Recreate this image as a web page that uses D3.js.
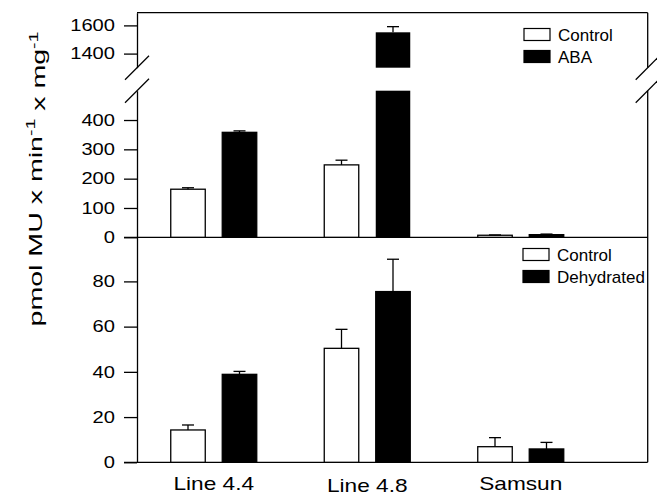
<!DOCTYPE html>
<html>
<head>
<meta charset="utf-8">
<script src="https://cdn.jsdelivr.net/npm/d3@7"></script>
<style>
  body { margin: 0; background: #fff; }
  svg { display: block; font-family: "Liberation Sans", Arial, sans-serif; }
  .axis path, .axis line { stroke: #000; stroke-width: 1.3; }
  .axis text { font-size: 16.5px; fill: #000; }
</style>
</head>
<body>
<div id="chart"></div>
<script>
// categories
var groups = ["Line 4.4", "Line 4.8", "Samsun"];

// top panel (ABA experiment)
var abaControl = [164, 247, 7];
var abaControlErr = [5, 16, 1];
var abaTreated = [358, 1551, 9];
var abaTreatedErr = [5, 40, 2];

// bottom panel (dehydration experiment)
var dehControl = [14.3, 50.4, 6.9];
var dehControlErr = [2.2, 8.4, 4.0];
var dehTreated = [38.9, 75.5, 5.9];
var dehTreatedErr = [1.3, 14.3, 2.9];

var lowTicks = [0, 100, 200, 300, 400];
var highTicks = [1400, 1600];
var bottomTicks = [0, 20, 40, 60, 80];

var W = 657, H = 496;
var left = 137, right = 647.7;
var topY = 12.7, breakLo = 90.7, breakHi = 67.7, midY = 237.3, baseY = 462.3;

var svg = d3.select("#chart").append("svg")
    .attr("width", W)
    .attr("height", H);

var x = d3.scaleBand()
    .domain(groups)
    .range([left, 597.5])
    .paddingInner(0)
    .paddingOuter(0);

var xSub = d3.scaleBand()
    .domain(["control", "treated"])
    .range([-43, 43])
    .paddingInner(0.33);

var yLow = d3.scaleLinear().domain([0, 500]).range([midY, breakLo]);
var yHigh = d3.scaleLinear().domain([1300, 1690]).range([breakHi, topY]);
var yBot = d3.scaleLinear().domain([0, 99.5]).range([baseY, midY]);

function bx(i, key) {
    return x(groups[i]) + x.bandwidth() / 2 + xSub(key);
}

// stretch text horizontally to match the wide lettering of the original
function stretch(sel, k) {
    sel.each(function() {
        var len = this.getComputedTextLength();
        d3.select(this).attr("textLength", len * k).attr("lengthAdjust", "spacingAndGlyphs");
    });
}

// ---- axes
var fmt = d3.format("d");
svg.append("g").attr("class", "axis")
    .attr("transform", "translate(" + left + ",0)")
    .call(d3.axisLeft(yLow).tickValues(lowTicks).tickFormat(fmt).tickSize(13).tickSizeOuter(0).tickPadding(9));
svg.append("g").attr("class", "axis")
    .attr("transform", "translate(" + left + ",0)")
    .call(d3.axisLeft(yHigh).tickValues(highTicks).tickFormat(fmt).tickSize(13).tickSizeOuter(0).tickPadding(9));
svg.append("g").attr("class", "axis")
    .attr("transform", "translate(" + left + ",0)")
    .call(d3.axisLeft(yBot).tickValues(bottomTicks).tickFormat(fmt).tickSize(13).tickSizeOuter(0).tickPadding(9));

svg.selectAll(".axis text").call(stretch, 1.22);

// frame lines
var frame = svg.append("g").attr("stroke", "#000").attr("stroke-width", 1.3).attr("fill", "none");
frame.append("line").attr("x1", left).attr("x2", right).attr("y1", topY).attr("y2", topY);
frame.append("line").attr("x1", left - 13).attr("x2", right).attr("y1", midY).attr("y2", midY);
frame.append("line").attr("x1", left - 13).attr("x2", right).attr("y1", baseY).attr("y2", baseY);
frame.append("line").attr("x1", right).attr("x2", right).attr("y1", topY).attr("y2", breakHi);
frame.append("line").attr("x1", right).attr("x2", right).attr("y1", breakLo).attr("y2", baseY);

// break marks
[left, right].forEach(function(cx) {
    [breakHi, breakLo].forEach(function(cy) {
        frame.append("line")
            .attr("x1", cx - 12).attr("y1", cy + 12)
            .attr("x2", cx + 12).attr("y2", cy - 12);
    });
});

// ---- bars
var barW = xSub.bandwidth();

function errBar(g, cx, y0, y1) {
    g.append("line").attr("x1", cx).attr("x2", cx)
        .attr("y1", y0).attr("y2", y1)
        .attr("stroke", "#000").attr("stroke-width", 1.3);
    g.append("line").attr("x1", cx - 6).attr("x2", cx + 6)
        .attr("y1", y1).attr("y2", y1)
        .attr("stroke", "#000").attr("stroke-width", 1.3);
}

function drawBar(g, i, key, val, err, fill, scaleFn) {
    var x0 = bx(i, key);
    g.append("rect")
        .attr("x", x0).attr("width", barW)
        .attr("y", scaleFn(val)).attr("height", scaleFn(0) - scaleFn(val))
        .attr("fill", fill).attr("stroke", "#000").attr("stroke-width", 1.3);
    errBar(g, x0 + barW / 2, scaleFn(val), scaleFn(val + err));
}

var bars = svg.append("g");

groups.forEach(function(g, i) {
    // top panel
    drawBar(bars, i, "control", abaControl[i], abaControlErr[i], "#fff", yLow);
    if (abaTreated[i] > yLow.domain()[1]) {
        // broken bar: lower piece up to the break, upper piece above it
        var x0 = bx(i, "treated");
        bars.append("rect").attr("x", x0).attr("width", barW)
            .attr("y", yLow(500)).attr("height", yLow(0) - yLow(500))
            .attr("fill", "#000");
        bars.append("rect").attr("x", x0).attr("width", barW)
            .attr("y", yHigh(abaTreated[i])).attr("height", yHigh(1300) - yHigh(abaTreated[i]))
            .attr("fill", "#000");
        errBar(bars, x0 + barW / 2, yHigh(abaTreated[i]), yHigh(abaTreated[i] + abaTreatedErr[i]));
    } else {
        drawBar(bars, i, "treated", abaTreated[i], abaTreatedErr[i], "#000", yLow);
    }
    // bottom panel
    drawBar(bars, i, "control", dehControl[i], dehControlErr[i], "#fff", yBot);
    drawBar(bars, i, "treated", dehTreated[i], dehTreatedErr[i], "#000", yBot);
});

// ---- legends
function legend(x0, y0, labels) {
    var lg = svg.append("g").attr("transform", "translate(" + x0 + "," + y0 + ")");
    labels.forEach(function(lab, j) {
        lg.append("rect")
            .attr("x", 0).attr("y", j * 22)
            .attr("width", 26).attr("height", 12)
            .attr("fill", j === 0 ? "#fff" : "#000")
            .attr("stroke", "#000").attr("stroke-width", 1.2);
        lg.append("text")
            .attr("x", 34).attr("y", j * 22 + 6)
            .attr("dy", "0.36em")
            .style("font-size", "17px")
            .text(lab);
    });
}
legend(524, 28.5, ["Control", "ABA"]);
legend(523, 248.5, ["Control", "Dehydrated"]);

// ---- x labels
svg.append("g").selectAll("text")
    .data(groups)
    .enter().append("text")
    .attr("x", function(d) { return x(d) + x.bandwidth() / 2; })
    .attr("y", function(d) { return d === "Line 4.8" ? 492 : 490; })
    .attr("text-anchor", "middle")
    .style("font-size", "17.7px")
    .text(function(d) { return d; })
    .call(stretch, 1.28);

// ---- y label
var yl = svg.append("g").attr("transform", "translate(42,179) rotate(-90)");
var ylText = yl.append("text")
    .attr("text-anchor", "middle")
    .style("font-size", "19px");
ylText.append("tspan").text("pmol MU x min");
ylText.append("tspan").attr("dy", "-0.55em").style("font-size", "13px").text("-1");
ylText.append("tspan").attr("dy", "0.55em").text(" x mg");
ylText.append("tspan").attr("dy", "-0.55em").style("font-size", "13px").text("-1");
var bw = ylText.node().getBBox().width;
ylText.attr("transform", "scale(" + (295 / bw) + ",1)");
</script>
</body>
</html>
